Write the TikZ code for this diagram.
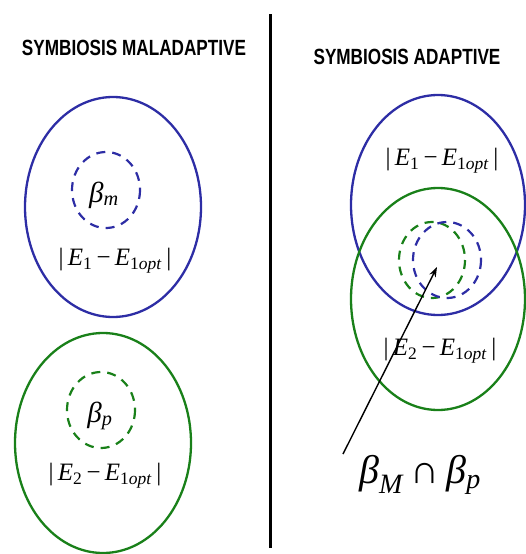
\documentclass[tikz,border=0pt]{standalone}
\usepackage{fontspec}
\usepackage{graphicx}
\setmainfont{Liberation Serif}
\newfontfamily\titlefont{Liberation Sans}
\usetikzlibrary{arrows.meta}
\definecolor{eblue}{RGB}{45,45,165}
\definecolor{egreen}{RGB}{25,128,25}
\newcommand{\Eabs}[1]{|\,\textit{E}\textsubscript{#1}\,−\,\textit{E}\textsubscript{1\textit{opt}}\,|}
\tikzset{
  bigell/.style={line width=2.3pt},
  dashcirc/.style={line width=2.2pt, dash pattern=on 9pt off 7pt},
  title/.style={font=\titlefont\bfseries\fontsize{22}{22}\selectfont, inner sep=0pt},
  formula/.style={font=\fontsize{25}{25}\selectfont, inner sep=0pt},
  betalab/.style={font=\fontsize{29}{29}\selectfont, inner sep=0pt}
}
\begin{document}
\begin{tikzpicture}[x=1pt,y=-1pt]
\useasboundingbox (0,0) rectangle (526,554);
% divider
\draw[line width=3pt] (270,14) -- (270,548);
% titles
\node[title] (t1) at (134,48) {\scalebox{0.78}[1]{SYMBIOSIS MALADAPTIVE}};
\node[title] (t2) at (407,57) {\scalebox{0.78}[1]{SYMBIOSIS ADAPTIVE}};
% left side
\draw[eblue, bigell] (113,207) ellipse [x radius=88, y radius=110];
\draw[eblue, dashcirc] (106,190) ellipse [x radius=34, y radius=38];
\node[betalab] (bm) at (104,195) {\textit{β}\textsubscript{\textit{m}}};
\node[formula] (e1l) at (115,261) {\Eabs{1}};
\draw[egreen, bigell] (103,443) ellipse [x radius=88, y radius=110];
\draw[egreen, dashcirc] (101,410) ellipse [x radius=34, y radius=38];
\node[betalab] (bp) at (100,416) {\textit{β}\textsubscript{\textit{p}}};
\node[formula] (e2l) at (105,476) {\Eabs{2}};
% right side
\draw[eblue, bigell] (438,205) ellipse [x radius=87, y radius=110];
\draw[egreen, bigell] (438,299) ellipse [x radius=87, y radius=111];
\draw[egreen, dashcirc] (432,260) ellipse [x radius=33, y radius=38];
\draw[eblue, dashcirc] (447,260) ellipse [x radius=34, y radius=38];
\node[formula] (e1r) at (442,161) {\Eabs{1}};
\node[formula] (e2r) at (440,351) {\Eabs{2}};
\coordinate (tip) at (437,267);
\coordinate (tail) at (343,454);
\node[font=\fontsize{40}{40}\selectfont, inner sep=0pt] (cap) at (420,475) {\textit{β}\textsubscript{\textit{M}}\,∩\,\textit{β}\textsubscript{\textit{p}}};
\draw[line width=1.4pt, -{Stealth[length=10pt,width=7pt]}] (tail) -- (tip);
\end{tikzpicture}
\end{document}
